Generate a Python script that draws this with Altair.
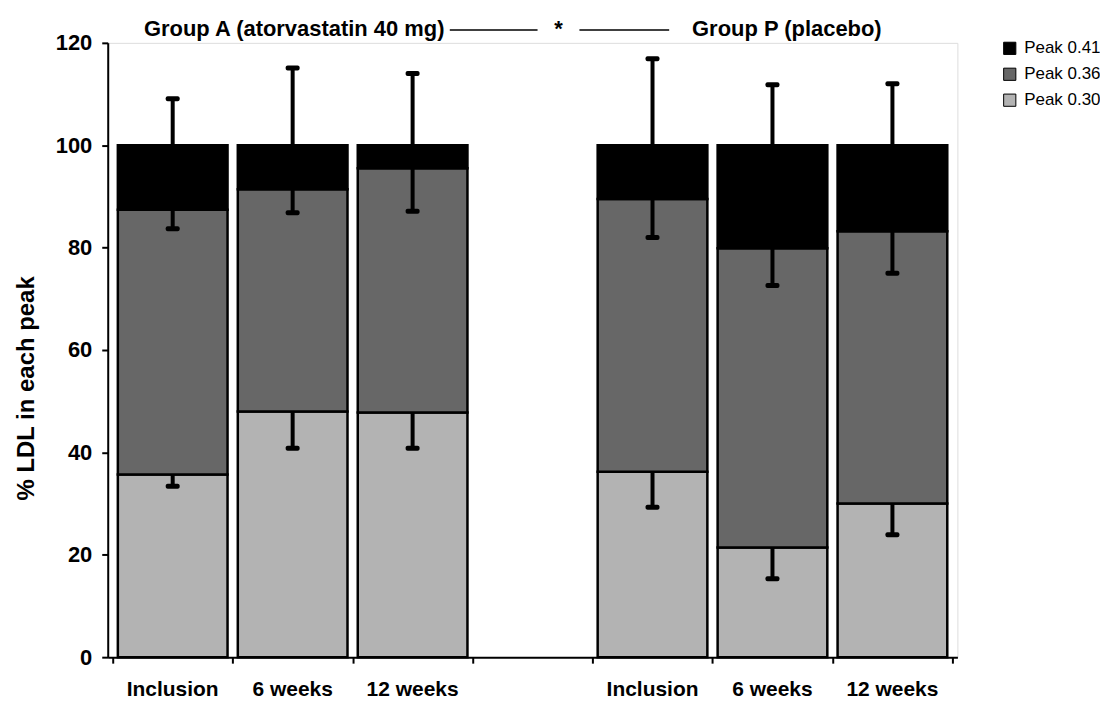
import altair as alt
import pandas as pd

# ---- data ----
groups = ["A", "A", "A", "P", "P", "P"]
timepoints = ["Inclusion", "6 weeks", "12 weeks", "Inclusion", "6 weeks", "12 weeks"]
peak_030 = [35.7, 48.0, 47.8, 36.2, 21.4, 30.0]
peak_036 = [51.7, 43.4, 47.7, 53.3, 58.5, 53.2]
peak_041 = [12.6, 8.6, 4.5, 10.5, 20.1, 16.8]
sd_030 = [2.3, 7.2, 7.0, 6.9, 6.1, 6.1]
sd_036 = [3.7, 4.6, 8.4, 7.5, 7.3, 8.2]
sd_041 = [9.1, 15.1, 14.0, 16.9, 11.8, 12.0]
peak_names = ["Peak 0.41", "Peak 0.36", "Peak 0.30"]
peak_colors = ["#000000", "#676767", "#b3b3b3"]
y_ticks = [0, 20, 40, 60, 80, 100, 120]

# slot order: three group-A bars, one empty slot, three group-P bars
centers = []
for g, i in zip(groups, [0, 1, 2, 0, 1, 2]):
    centers.append((0 if g == "A" else 4) + i + 0.5)
n_slots = 7

rows = []
for k in range(6):
    rows.append({"c": centers[k], "peak": "Peak 0.30", "value": peak_030[k], "ord": 0})
    rows.append({"c": centers[k], "peak": "Peak 0.36", "value": peak_036[k], "ord": 1})
    rows.append({"c": centers[k], "peak": "Peak 0.41", "value": peak_041[k], "ord": 2})
bars_df = pd.DataFrame(rows)

err_rows = []
for k in range(6):
    b030 = peak_030[k]
    b036 = peak_030[k] + peak_036[k]
    b041 = b036 + peak_041[k]
    err_rows.append({"c": centers[k], "base": b041, "end": b041 + sd_041[k]})
    err_rows.append({"c": centers[k], "base": b036, "end": b036 - sd_036[k]})
    err_rows.append({"c": centers[k], "base": b030, "end": b030 - sd_030[k]})
err_df = pd.DataFrame(err_rows)

lab_df = pd.DataFrame({"c": centers, "label": timepoints})

W, H = 852, 616
FONT = "Liberation Sans"

xscale = alt.Scale(domain=[0, n_slots], nice=False, zero=False)
yscale = alt.Scale(domain=[0, 120], nice=False)

xaxis = alt.Axis(values=list(range(n_slots + 1)), labels=False, title=None, grid=False,
                 tickSize=6, tickWidth=2, domainWidth=2, domainColor="black", tickColor="black")
yaxis = alt.Axis(values=y_ticks, title="% LDL in each peak", grid=False,
                 tickSize=6, tickWidth=2, domainWidth=2, domainColor="black", tickColor="black",
                 labelFontSize=22, labelFontWeight="bold", labelColor="black", labelPadding=10,
                 titleFontSize=24, titleFontWeight="bold", titleColor="black", titlePadding=17,
                 titleY=346)

bars = alt.Chart(bars_df).mark_bar(size=110, stroke="black", strokeWidth=2.5).encode(
    x=alt.X("c:Q", scale=xscale, axis=xaxis),
    y=alt.Y("value:Q", stack="zero", scale=yscale, axis=yaxis),
    color=alt.Color("peak:N", scale=alt.Scale(domain=peak_names, range=peak_colors),
                    legend=alt.Legend(orient="none", legendX=896, legendY=-3, title=None,
                                      symbolType="square", symbolSize=150,
                                      symbolStrokeColor="black", symbolStrokeWidth=1,
                                      labelFontSize=17, labelColor="black", labelOffset=6,
                                      rowPadding=8, padding=0, direction="vertical")),
    order=alt.Order("ord:Q", sort="ascending"),
)

rules = alt.Chart(err_df).mark_rule(strokeWidth=4, color="black").encode(
    x=alt.X("c:Q", scale=xscale), y=alt.Y("base:Q", scale=yscale), y2="end:Q")

caps = alt.Chart(err_df).mark_tick(orient="horizontal", size=14, thickness=5, color="black",
                                   opacity=1, cornerRadius=2).encode(
    x=alt.X("c:Q", scale=xscale), y=alt.Y("end:Q", scale=yscale))

xlabels = alt.Chart(lab_df).mark_text(fontSize=21, fontWeight="bold", color="black",
                                      baseline="alphabetic", font=FONT).encode(
    x=alt.X("c:Q", scale=xscale), y=alt.value(H + 39), text="label:N")

ann_df = pd.DataFrame({"t": ["Group A (atorvastatin 40 mg)", "*", "Group P (placebo)"],
                       "px": [187, 452, 681]})
ann = alt.Chart(ann_df).mark_text(fontSize=22, fontWeight="bold", color="black",
                                  baseline="middle", font=FONT).encode(
    x=alt.X("px:Q", scale=None), y=alt.value(-14), text="t:N")

line_df = pd.DataFrame({"x1": [343, 473], "x2": [431, 563]})
lines = alt.Chart(line_df).mark_rule(strokeWidth=1.5, color="black").encode(
    x=alt.X("x1:Q", scale=None), x2="x2:Q", y=alt.value(-13))

chart = alt.layer(bars, rules, caps, xlabels, ann, lines).properties(
    width=W, height=H,
    padding={"left": 100, "top": 34, "right": 143, "bottom": 41},
    autosize=alt.AutoSizeParams(type="none"),
).configure_view(stroke=None).configure(font=FONT)

chart.save("out.html", embed_options={"renderer": "svg", "actions": False})
